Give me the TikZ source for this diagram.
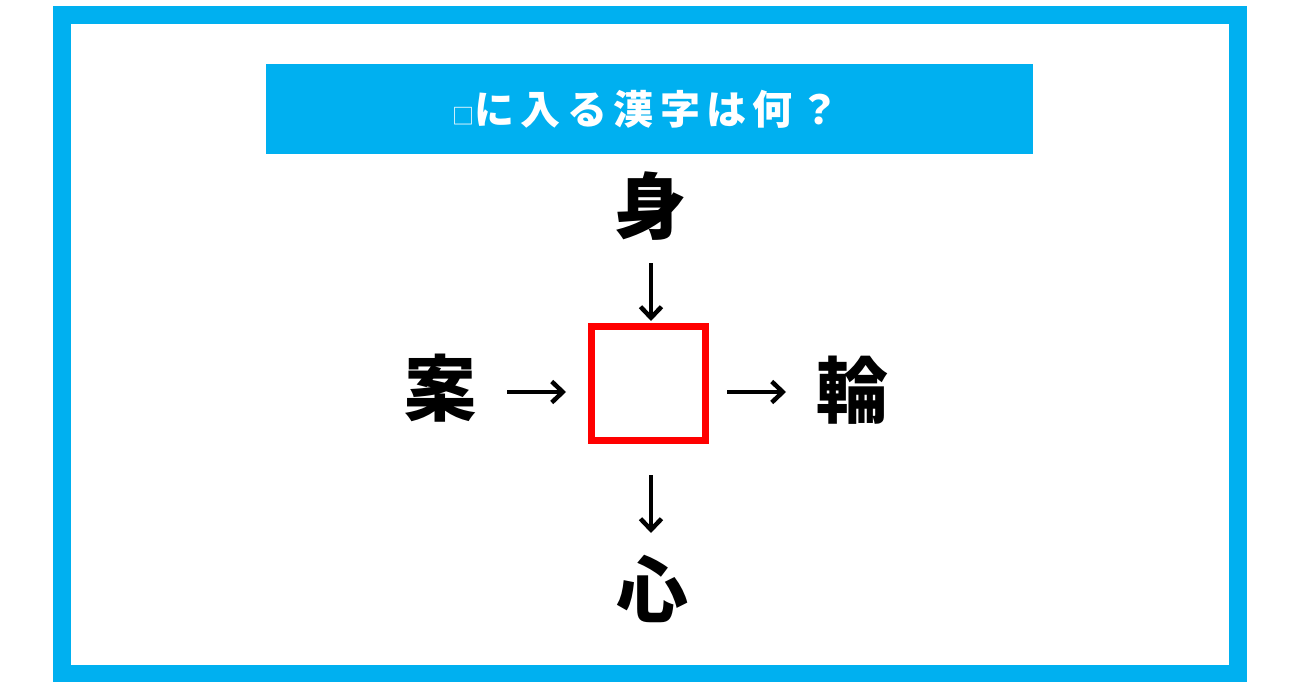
\documentclass[tikz,border=0pt]{standalone}
\usepackage{fontspec}
\usetikzlibrary{arrows.meta}
\newfontfamily\jp{Noto Sans CJK JP}
\definecolor{frameblue}{RGB}{0,176,240}
\definecolor{boxred}{RGB}{255,0,0}
\tikzset{
  kanji/.style={font=\jp\bfseries\fontsize{72}{72}\selectfont, inner sep=0pt, outer sep=0pt,
    text height=63.5pt, text depth=8.5pt, minimum width=72pt},
  arr/.style={line width=4.5pt, -{Straight Barb[length=11pt,width=21pt]}},
  answer/.style={draw=boxred, line width=7pt, minimum size=114pt, inner sep=0pt},
}
\begin{document}
\begin{tikzpicture}[x=1pt,y=-1pt]
\useasboundingbox (0,0) rectangle (1299,682);
\draw[frameblue, line width=18pt] (62,15) rectangle (1238,674);
\fill[frameblue] (266,64) rectangle (1033,154);
\node[text=white, inner sep=0pt] (title) at (646,109)
  {\jp\bfseries\fontsize{40}{40}\selectfont\addfontfeature{LetterSpace=16}{\mdseries\fontsize{22}{22}\selectfont □}に入る漢字は何？};
\node[answer] (box) at (648.5,383.5) {};
\node[kanji] (mi) at (650,206) {身};
\node[kanji] (an) at (440,388) {案};
\node[kanji] (rin) at (852,390) {輪};
\node[kanji] (kokoro) at (652,589) {心};
\draw[arr, shorten <=31pt, shorten >=22pt] (an.east |- 0,392) -- (box.west |- 0,392);
\draw[arr, shorten <=18pt, shorten >=30pt] (box.east |- 0,392) -- (rin.west |- 0,392);
\draw[arr, shorten <=21pt, shorten >=2pt] (mi.south -| 651,0) -- (box.north -| 651,0);
\draw[arr, shorten <=31pt, shorten >=20pt] (box.south -| 651,0) -- (kokoro.north -| 651,0);
\end{tikzpicture}
\end{document}
